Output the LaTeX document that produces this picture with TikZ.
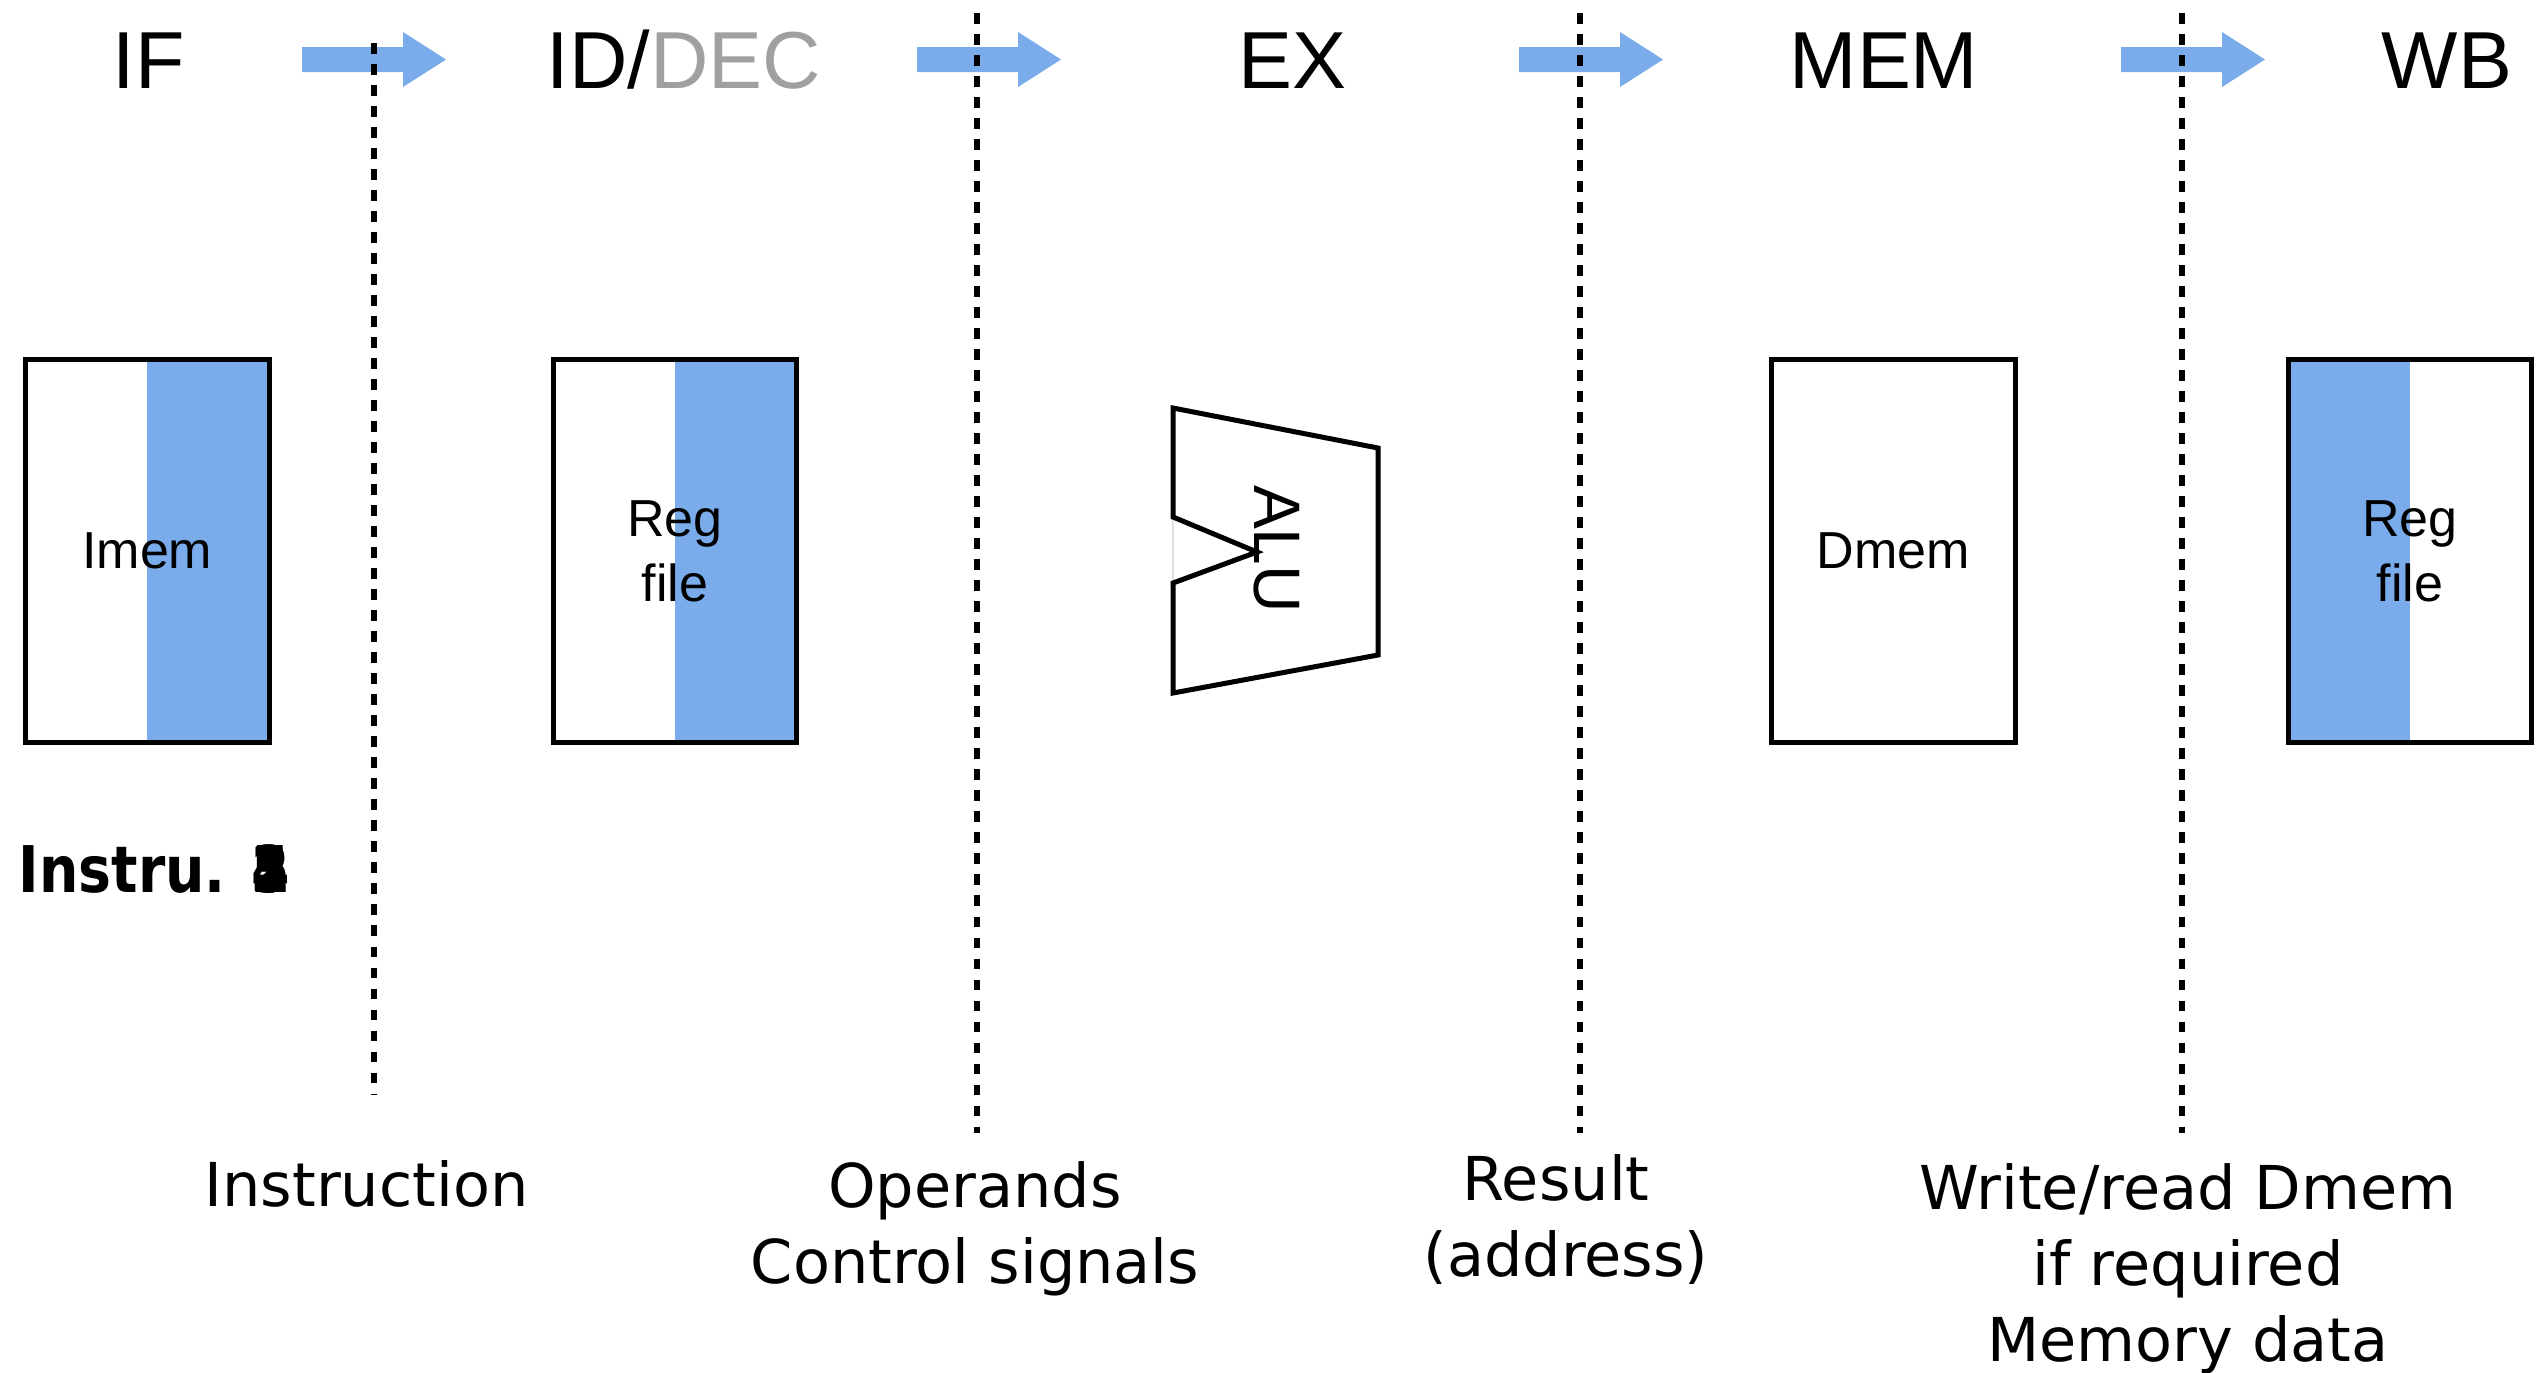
\documentclass[tikz,border=0pt]{standalone}
\usepackage{fontspec}
\usepackage{graphicx}
\setmainfont{Liberation Sans}
\newfontfamily\notefont{DejaVu Sans}
\definecolor{stageblue}{RGB}{122,172,236}
\definecolor{decgray}{RGB}{160,160,160}
\tikzset{
  stagelabel/.style={anchor=base, inner sep=0pt, font=\fontsize{23}{27}\selectfont},
  unitbox/.style={draw, line width=1.42pt, minimum width=2.435cm, minimum height=3.82cm,
    inner sep=0pt, align=center, font=\fontsize{14.8}{18.4}\selectfont},
  rightblue/.style={path picture={\fill[stageblue] (path picture bounding box.north)
    rectangle (path picture bounding box.south east);}},
  leftblue/.style={path picture={\fill[stageblue] (path picture bounding box.south west)
    rectangle (path picture bounding box.north);}},
  sepline/.style={line width=0.055cm, dash pattern=on 0.105cm off 0.105cm},
  notetext/.style={anchor=base, inner sep=0pt, font=\notefont\fontsize{17.2}{21.6}\selectfont},
  stagearrow/.pic={\fill[stageblue] (0,-12.5) -- (101,-12.5) -- (101,-27.5) -- (144,0)
    -- (101,27.5) -- (101,12.5) -- (0,12.5) -- cycle;}
}
\begin{document}
\begin{tikzpicture}[x=0.01cm, y=-0.01cm]
\useasboundingbox (0,0) rectangle (2548,1372);

% stage names
\node[stagelabel] (if)  at (148.5,88) {IF};
\node[stagelabel] (id)  at (684,88)   {ID/\textcolor{decgray}{DEC}};
\node[stagelabel] (ex)  at (1292,88)  {EX};
\node[stagelabel] (mem) at (1884,88)  {MEM};
\node[stagelabel] (wb)  at (2447,88)  {WB};

% block arrows between stages
\pic at (302,59.5)  {stagearrow};
\pic at (917,59.5)  {stagearrow};
\pic at (1519,59.5) {stagearrow};
\pic at (2121,59.5) {stagearrow};

% pipeline register boundaries
\draw[sepline] (374,43) -- (374,1095);
\draw[sepline] (977,13) -- (977,1133);
\draw[sepline] (1580,13) -- (1580,1133);
\draw[sepline] (2182,13) -- (2182,1133);

% functional units
\node[unitbox, rightblue] (imem) at (147.25,551) {Imem};
\node[unitbox, rightblue] (rf1)  at (675,551)    {Reg\\file};
\node[unitbox]            (dmem) at (1893.5,551) {Dmem};
\node[unitbox, leftblue]  (rf2)  at (2410,551)   {Reg\\file};

% ALU outline
\draw[gray!25, line width=0.4pt] (1173,517) -- (1173,583);
\draw[line width=1.42pt, line join=miter]
  (1173,408) -- (1378,448) -- (1378,655) -- (1173,693) -- (1173,583)
  -- (1257,552) -- (1173,517) -- cycle;
\node[rotate=-90, inner sep=0pt, font=\fontsize{18.7}{22}\selectfont] (alu) at (1277,549) {ALU};

% instruction tag
\node[anchor=base west, inner sep=0pt, font=\notefont\bfseries\fontsize{18.3}{22}\selectfont]
  (instru) at (18,892) {\scalebox{0.86}[1]{Instru. \rlap{1}\rlap{2}\rlap{3}\rlap{4}5}};

% values passed between stages
\node[notetext] (instr)   at (366.5,1206) {Instruction};
\node[notetext] (opnd)    at (975,1207)   {Operands};
\node[notetext] (ctrl)    at (975,1283)   {Control signals};
\node[notetext] (res)     at (1556,1200)  {Result};
\node[notetext] (addr)    at (1566,1276)  {(address)};
\node[notetext] (wr)      at (2188,1209)  {Write/read Dmem};
\node[notetext] (ifreq)   at (2188,1285)  {if required};
\node[notetext] (memdata) at (2188,1361)  {Memory data};
\end{tikzpicture}
\end{document}
